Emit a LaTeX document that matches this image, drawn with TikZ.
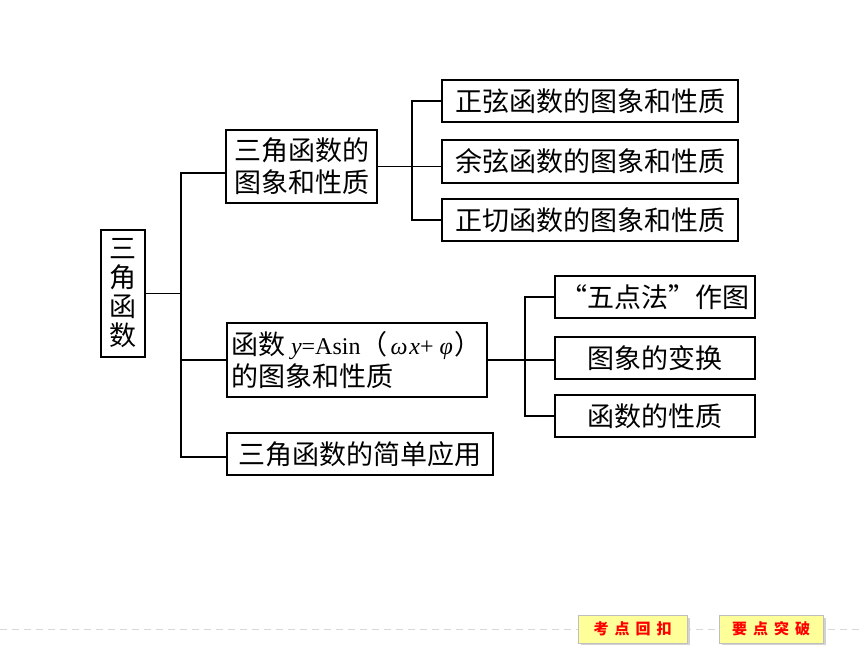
\documentclass[tikz,border=0pt]{standalone}
\usepackage{fontspec}
\newfontfamily\cjk{Noto Sans CJK SC}
\newfontfamily\tnr{Liberation Serif}
\usetikzlibrary{shadows}
\definecolor{btnfill}{HTML}{FFFF99}
\definecolor{btntext}{HTML}{FF0000}
\newcommand{\latin}[1]{{\tnr\fontsize{24}{32}\selectfont #1}}
\tikzstyle{box}=[draw, line width=1.4pt, inner sep=0pt, minimum height=42pt, font=\cjk\fontsize{27}{32}\selectfont]
\tikzstyle{tbox}=[box, align=center]
\tikzstyle{branch}=[line width=1.4pt]
\tikzstyle{btn}=[draw=gray!50, fill=btnfill, inner sep=0pt, minimum width=109pt, minimum height=28pt,
  text=btntext, font=\cjk\bfseries\fontsize{15}{18}\selectfont,
  drop shadow={shadow xshift=3pt, shadow yshift=-3pt, fill=gray!35, opacity=1}]

\begin{document}
\begin{tikzpicture}[x=1pt, y=-1pt]
        \useasboundingbox (0,0) rectangle (860,645);
        % boxes
        \node[tbox, minimum width=44pt, minimum height=127pt, font=\cjk\fontsize{27}{29}\selectfont] (root) at (123,293.5) {三\\角\\函\\数};
        \node[tbox, minimum width=151pt, minimum height=73pt] (A) at (301.5,166.5) {三角函数的\\图象和性质};
        \node[box, minimum width=260pt, minimum height=74pt, text width=252pt, align=left] (B) at (357,360)
            {\mbox{函数\hspace{6pt}\latin{\itshape y\upshape=Asin}（\kern3pt\latin{\itshape ω\kern2pt x\upshape+\kern6pt\itshape φ}\kern2pt\rlap{）}}\\的图象和性质};
        \node[box, minimum width=266pt] (C) at (360,454) {三角函数的简单应用};
        \node[box, minimum width=296pt] (A1) at (590,101) {正弦函数的图象和性质};
        \node[box, minimum width=296pt, minimum height=43pt] (A2) at (590,161.5) {余弦函数的图象和性质};
        \node[box, minimum width=296pt] (A3) at (590,220) {正切函数的图象和性质};
        \node[box, minimum width=200pt] (B1) at (655,297) {“五点法”作图};
        \node[box, minimum width=200pt] (B2) at (655,358) {图象的变换};
        \node[box, minimum width=200pt] (B3) at (655,416) {函数的性质};
        % joints
        \coordinate (J) at (181,292);
        \coordinate (JA) at (412,166.5);
        \coordinate (JB) at (525,360);
        \draw[branch] (root.east) -- (root.east -| J);
        \draw[branch] ([yshift=-6.5pt]A.west) -| (J) |- ([yshift=-3pt]C.west);
        \draw[branch] (J) |- (B.west);
        \draw[branch] (A.east) -- (JA);
        \draw[branch] (A1.west) -| (JA) |- (A3.west);
        \draw[branch] (JA) -- (JA -| A2.west);
        \draw[branch] (B.east) -- (JB);
        \draw[branch] (B1.west) -| (JB) |- (B3.west);
        \draw[branch] (JB) -- (JB -| B2.west);
        % bottom bar
        \draw[gray!30, line width=1pt, dash pattern=on 7pt off 5pt] (0,629) -- (860,629);
        \node[btn] (back) at (632.5,629) {考\hspace{6pt}点\hspace{6pt}回\hspace{6pt}扣};
        \node[btn, minimum width=104pt] (next) at (771,629) {要\hspace{6pt}点\hspace{6pt}突\hspace{6pt}破};
    \end{tikzpicture}
\end{document}
